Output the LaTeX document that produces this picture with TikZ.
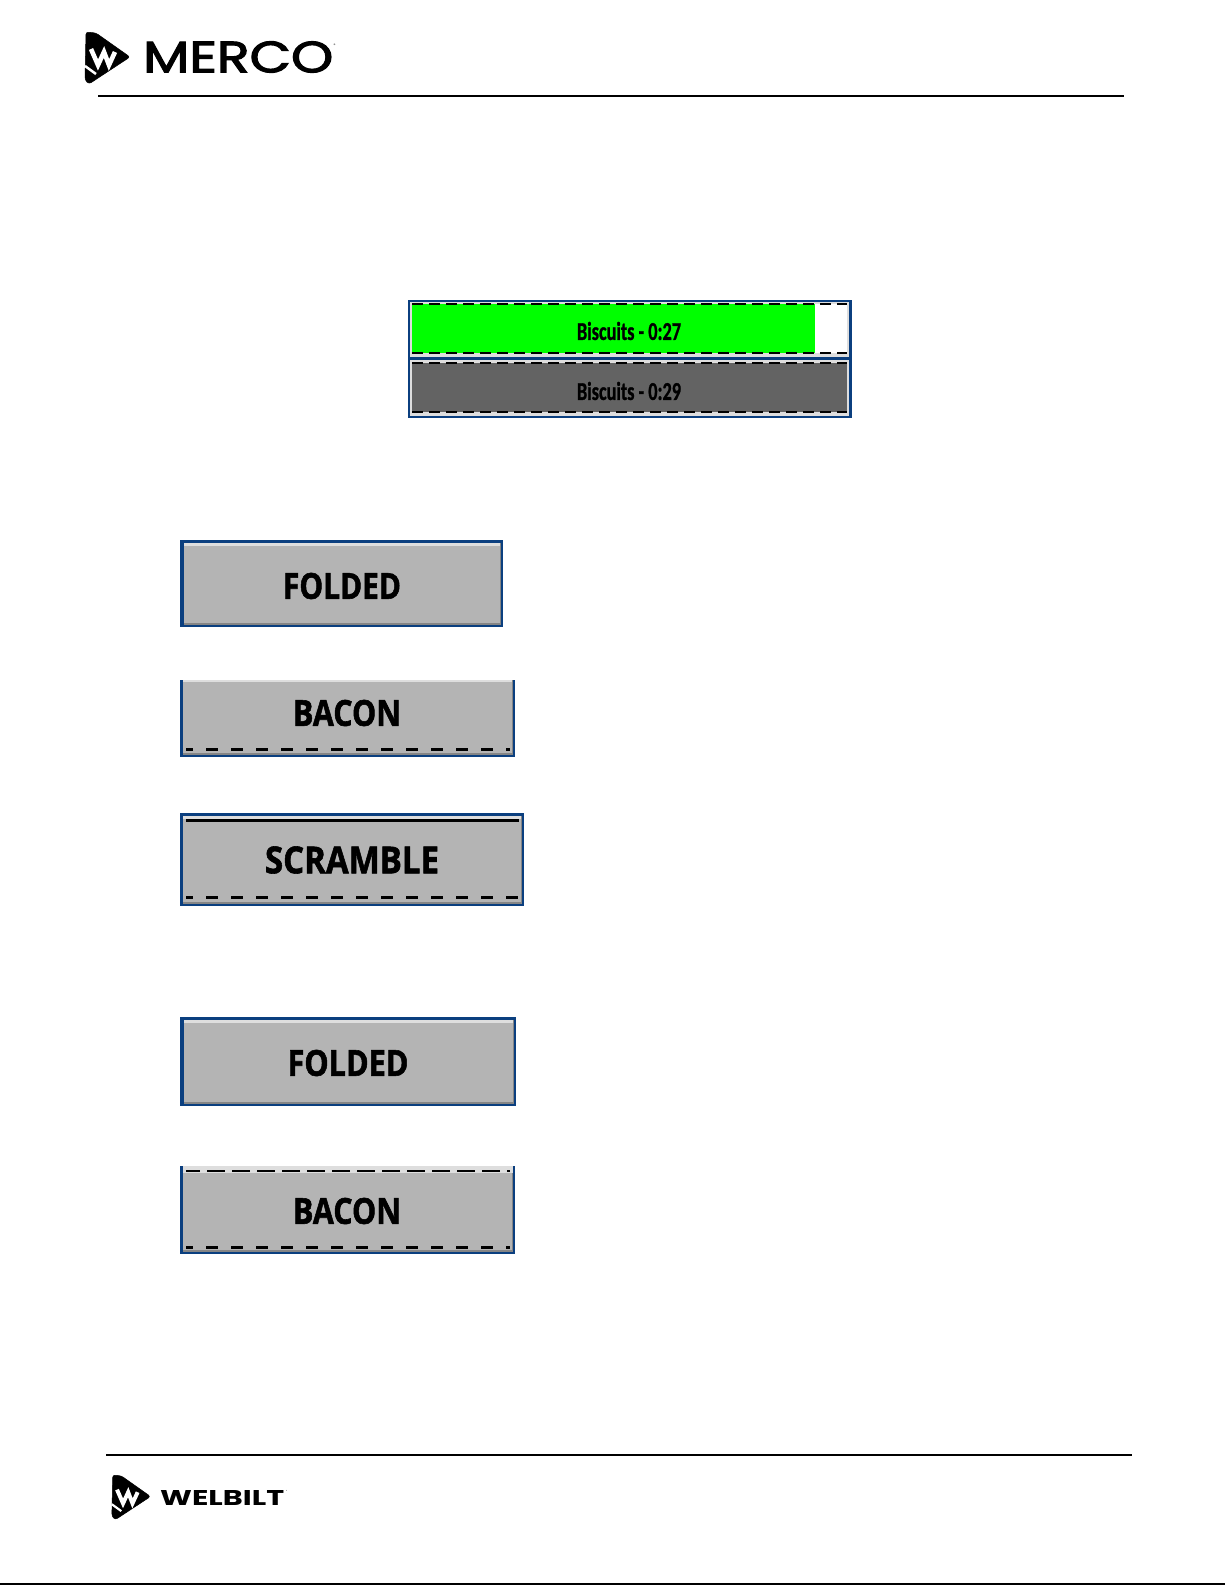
\documentclass[tikz,border=0pt]{standalone}
\usepackage{fontspec}
\setmainfont[BoldFeatures={FakeBold=1.2}]{Carlito}
\newfontfamily\btnfont[BoldFeatures={FakeBold=1.6}]{Open Sans}
\newfontfamily\logofont[FakeBold=2.4]{Poppins}
\newfontfamily\welfont{Poppins}
\definecolor{navy}{HTML}{0B3F7F}
\definecolor{btngray}{HTML}{B4B4B4}
\definecolor{btnlight}{HTML}{DEDEDE}
\definecolor{btndark}{HTML}{858585}
\definecolor{darkbar}{HTML}{636363}
\definecolor{rulegreen}{HTML}{00FF00}
\newcommand{\fitbox}[3]{\resizebox{#1pt}{#2pt}{#3}}
\tikzset{
  rulex/.style={black,line width=1.6pt},
  btntext/.style={inner sep=0pt,font=\btnfont\bfseries,text=black},
  dashshort/.style={black,line width=3pt,dash pattern=on 12pt off 13pt,dash phase=5pt},
  dashlong/.style={black,line width=2.6pt,dash pattern=on 18pt off 7pt,dash phase=4pt},
  dashbar/.style={black,line width=2pt,dash pattern=on 11pt off 6pt},
  logoblack/.style={fill=black,draw=black,line join=round,rounded corners=2.5pt,line width=.5pt},
  logowhite/.style={draw=white,line width=4.6pt,line join=miter,fill=none},
}
\newcommand{\btnface}[5][3pt]{%
  \fill[navy] (#2,#3) rectangle (#4,#5);
  \fill[btngray] ({#2+#1},{#3+3}) rectangle ({#4-2},{#5-2});
  \fill[btnlight] ({#2+#1},{#3+3}) rectangle ({#4-2},{#3+6});
  \fill[btndark] ({#2+#1},{#5-4.5}) rectangle ({#4-2},{#5-2});
  \fill[btndark] ({#4-3.5},{#3+3}) rectangle ({#4-2},{#5-2});
}
\newcommand{\logomark}[3]{%
  \begin{scope}[shift={(#1,#2)},scale=#3]
    \fill[logoblack] (2,0) -- (12,1) -- (46,25) -- (5,52) -- (1,48) -- cycle;
    \draw[logowhite,line width=#3*4.6pt] (7,17) -- (14,33) -- (20,20) -- (25,33) -- (31,20);
    \draw[logowhite,line width=#3*2.5pt] (1,34) -- (12,42);
  \end{scope}
}
\begin{document}
\begin{tikzpicture}[x=1pt,y=-1pt]
\useasboundingbox (0,0) rectangle (1225,1585);
\fill[white] (0,0) rectangle (1225,1585);
% header
\logomark{84}{32}{1}
\node[inner sep=0pt,anchor=west] (merco) at (143,57) {\fitbox{190}{31}{\logofont MERCO}};
\node[inner sep=0pt] (mercoreg) at (335,46) {\fontsize{5}{5}\selectfont\textregistered};
\coordinate (headL) at (98,96);
\coordinate (headR) at (1124,96);
\draw[rulex] (headL) -- (headR);
% progress bars
\fill[navy] (408,300) rectangle (852,418);
\fill[btnlight] (410,302) rectangle (849,357);
\fill[rulegreen] (412,304) rectangle (815,353);
\fill[white] (815,304) rectangle (847,353);
\fill[navy] (408,356.5) rectangle (852,359.5);
\fill[btnlight] (410,360) rectangle (849,415.5);
\fill[darkbar] (412,363) rectangle (847,412);
\draw[dashbar] (412,304) -- (847,304);
\draw[dashbar] (412,353) -- (847,353);
\draw[dashbar] (412,363) -- (847,363);
\draw[dashbar] (412,412) -- (847,412);
\node[btntext,font=\bfseries] (b1) at (629,331) {\fitbox{104}{18}{Biscuits - 0:27}};
\node[btntext,font=\bfseries] (b2) at (629,391) {\fitbox{104}{18}{Biscuits - 0:29}};
% FOLDED 1
\btnface[4]{180}{540}{503}{627}
\node[btntext] (f1) at (342,586) {\fitbox{118}{26}{FOLDED}};
% BACON 1
\btnface[2.5]{180}{676}{515}{757}
\fill[white] (178,670) rectangle (517,680);
\draw[dashshort] (186,749) -- (510,749);
\node[btntext] (b3) at (347,713) {\fitbox{108}{26}{BACON}};
% SCRAMBLE
\btnface[2.5]{180}{813}{524}{906}
\draw[black,line width=3pt] (186,820) -- (519,820);
\draw[dashshort] (186,897) -- (519,897);
\node[btntext] (s1) at (352,860) {\fitbox{174}{27}{SCRAMBLE}};
% FOLDED 2
\btnface[4]{180}{1017}{516}{1106}
\node[btntext] (f2) at (348,1063) {\fitbox{121}{26}{FOLDED}};
% BACON 2
\btnface[2.5]{180}{1160}{515}{1254}
\fill[white] (178,1155) rectangle (517,1166);
\fill[btnlight] (182.5,1166) rectangle (513,1173);
\draw[dashlong] (186,1171) -- (510,1171);
\draw[dashshort] (186,1247) -- (510,1247);
\node[btntext] (b4) at (347,1211) {\fitbox{108}{26}{BACON}};
% footer
\coordinate (footL) at (106,1455);
\coordinate (footR) at (1132,1455);
\draw[rulex] (footL) -- (footR);
\logomark{111}{1475}{.86}
\node[inner sep=0pt,anchor=west] (welbilt) at (160,1498) {\fitbox{124}{15}{\welfont\bfseries WELBILT}};
\node[inner sep=0pt] (welreg) at (287,1491) {\fontsize{3}{3}\selectfont\textregistered};
\coordinate (botL) at (0,1584);
\coordinate (botR) at (1225,1584);
\draw[rulex] (botL) -- (botR);
\end{tikzpicture}
\end{document}
